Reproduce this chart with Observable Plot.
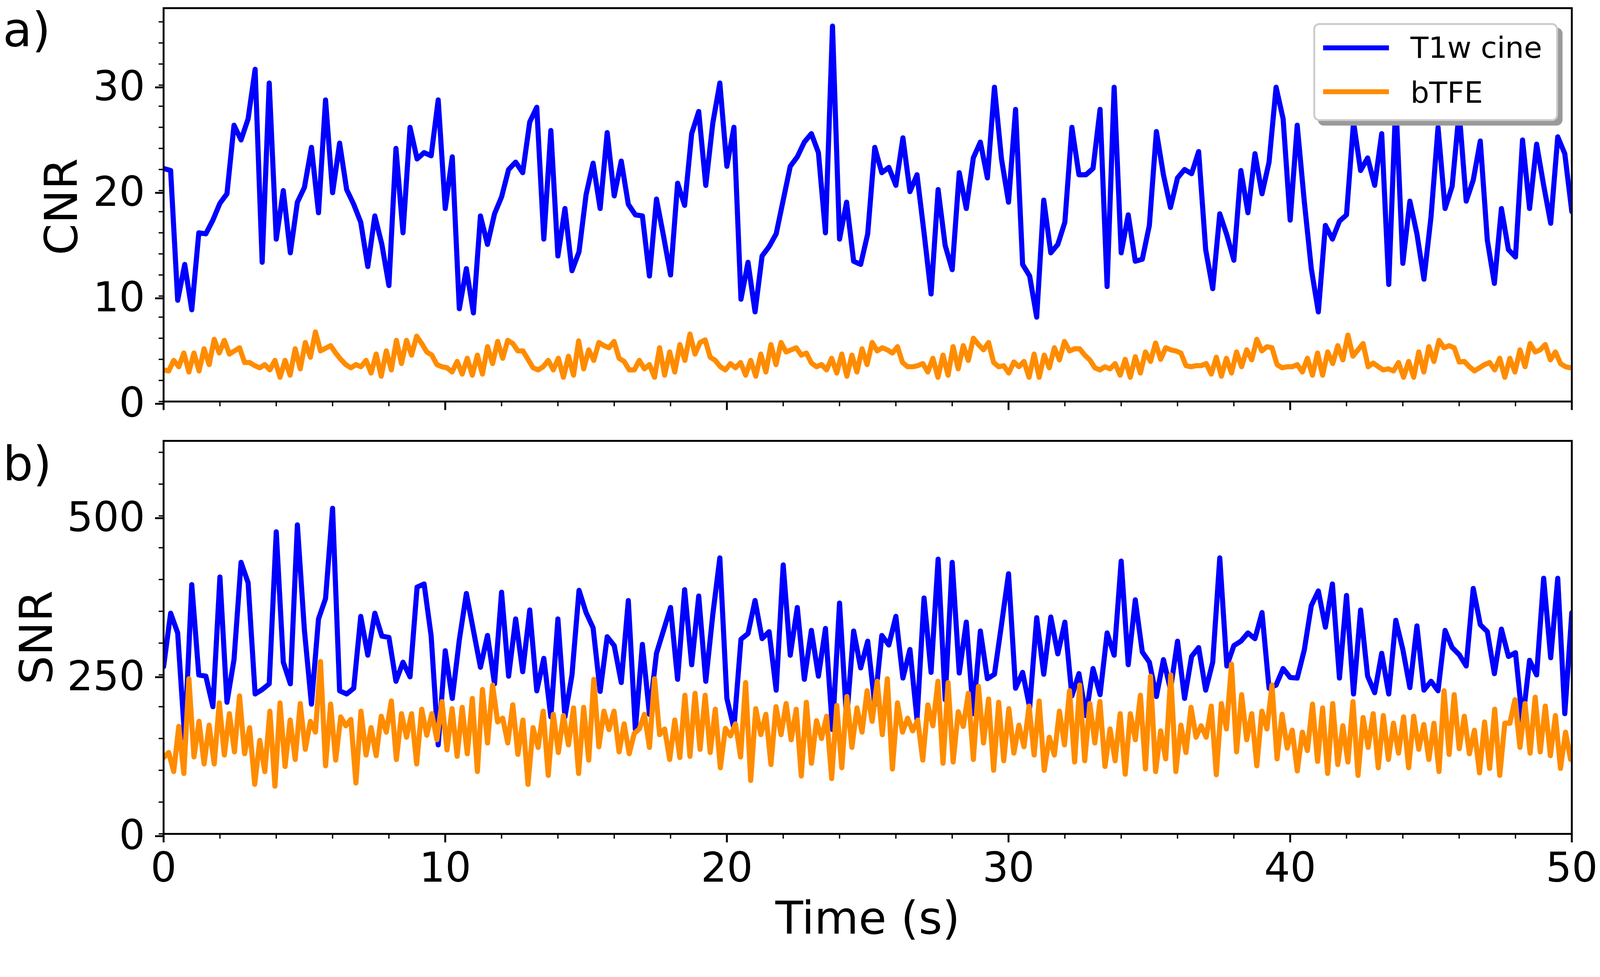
<!DOCTYPE html>
<html>
<head>
<meta charset="utf-8">
<script src="https://cdn.jsdelivr.net/npm/d3@7"></script>
<script src="https://cdn.jsdelivr.net/npm/@observablehq/plot@0.6"></script>
<style>
  html, body { margin: 0; padding: 0; background: #fff; overflow: hidden; }
  #fig { position: absolute; left: 0; top: 0; width: 4230px; height: 2501px; font-family: "DejaVu Sans", sans-serif; background: #fff; overflow: hidden; transform-origin: 0 0; }
  #fig svg { display: block; max-width: none !important; }
  .legend { position: absolute; left: 3472px; top: 61px; width: 647px; height: 259px; box-sizing: border-box;
            border: 5px solid #cccccc; border-radius: 16px; background: #fff; box-shadow: 12px 12px 0 0 #9a9a9a; }
  .legend .sw { position: absolute; left: 21px; width: 174px; height: 13px; }
  .legend .lb { position: absolute; left: 252px; font-size: 78px; line-height: 78px; color: #000; white-space: nowrap; }
</style>
</head>
<body>
<div id="fig"></div>
<script>
// ---- data ----
const seriesNames = ["T1w cine", "bTFE"];
const seriesColors = ["#0000ff", "#ff8c00"];
const cineStep = 0.25;    // s between T1w cine frames
const btfeStep = 0.1797;  // s between bTFE frames

const cnrCine = [
22.1,21.9,9.6,13.0,8.7,16.0,15.9,17.2,18.8,19.7,
26.2,24.8,26.8,31.5,13.2,30.2,15.4,20.0,14.1,18.9,
20.3,24.1,17.9,28.6,19.8,24.5,20.1,18.7,17.0,12.8,
17.6,14.9,11.0,24.0,16.0,26.0,23.0,23.6,23.3,28.6,
18.3,23.2,8.8,12.6,8.4,17.6,14.9,17.8,19.4,22.0,
22.7,21.7,26.5,27.9,15.4,25.7,13.8,18.3,12.4,14.2,
19.6,22.6,18.3,25.5,19.5,22.8,18.7,17.7,17.6,11.9,
19.2,15.7,12.0,20.7,18.6,25.4,27.5,20.5,26.4,30.2,
22.3,26.0,9.7,13.2,8.5,13.8,14.7,15.9,19.1,22.3,
23.2,24.6,25.4,23.6,16.0,35.6,15.4,18.9,13.3,13.0,
15.9,24.1,21.7,22.2,20.5,25.0,19.9,21.5,16.0,10.2,
20.1,14.8,12.5,21.7,18.3,23.1,24.6,21.2,29.8,23.0,
18.9,27.7,13.0,11.9,8.0,19.1,14.1,14.9,17.0,26.0,
21.5,21.5,22.1,27.7,10.9,29.8,14.1,17.7,13.3,13.5,
16.7,25.6,21.5,18.4,21.2,22.0,21.6,23.7,14.4,10.7,
17.8,15.8,13.4,21.9,17.9,23.5,19.7,22.7,29.8,26.8,
17.2,26.2,19.0,12.6,8.5,16.7,15.4,17.1,17.7,26.5,
21.9,23.1,20.5,25.4,11.1,28.5,13.1,19.0,15.9,11.6,
17.5,26.0,18.3,20.4,27.5,19.0,21.0,24.7,15.3,11.2,
18.3,14.4,13.7,24.8,18.3,24.4,20.5,16.9,25.1,23.5,
18.0];

const cnrBtfe = [
3.0,2.9,3.9,3.3,4.6,2.8,4.6,2.9,5.0,3.5,
5.9,4.6,5.8,4.5,4.8,5.1,3.7,3.7,3.4,3.2,
3.5,3.0,3.9,2.3,3.9,2.5,5.0,3.1,5.6,4.2,
6.6,4.8,5.05,5.3,4.6,4.0,3.5,3.2,3.5,3.3,
3.9,2.7,4.5,2.4,4.8,3.0,5.8,3.6,5.8,4.4,
6.2,5.5,4.7,4.4,3.5,3.3,3.2,2.8,3.8,2.6,
4.1,2.5,4.4,2.6,5.2,3.6,5.7,4.1,5.8,5.5,
4.8,4.8,4.0,3.2,3.0,3.3,3.9,3.0,4.1,2.3,
4.3,2.5,5.75,3.1,4.9,3.9,5.6,5.3,5.1,5.7,
4.1,3.8,3.0,3.0,3.9,3.1,3.5,2.3,5.1,2.5,
4.7,2.8,5.4,3.9,6.4,4.5,5.6,5.85,4.2,3.9,
3.3,3.0,3.6,3.2,3.7,2.5,3.9,2.4,4.5,2.8,
5.4,3.5,5.6,4.7,4.9,5.1,4.4,4.6,3.65,3.3,
3.5,3.0,4.1,2.7,4.5,2.4,4.4,2.8,5.0,3.5,
5.6,4.8,5.1,4.9,4.6,5.2,3.7,3.3,3.3,3.4,
3.6,2.8,4.1,2.3,4.4,2.5,5.2,3.1,5.3,3.9,
6.0,5.4,4.9,5.6,3.7,3.3,3.4,2.7,3.75,3.3,
3.8,2.3,4.5,2.3,4.4,3.2,5.1,3.95,5.7,4.8,
5.0,5.0,4.4,3.95,3.2,3.0,3.3,3.1,3.6,2.5,
4.0,2.3,4.25,2.7,4.7,3.8,5.55,4.0,5.1,4.9,
4.8,4.6,3.4,3.3,3.4,3.4,3.6,2.6,4.2,2.4,
4.1,2.7,4.7,3.3,4.9,3.95,5.9,4.8,5.2,5.1,
3.5,3.2,3.3,3.3,3.5,2.8,4.1,2.5,4.6,2.5,
4.7,3.6,5.3,3.95,6.3,4.3,4.9,5.5,3.3,3.65,
3.3,3.0,3.1,2.9,3.7,2.3,3.8,2.3,4.7,2.8,
5.2,3.8,5.8,5.1,5.3,5.1,3.75,3.8,3.3,2.9,
3.2,3.5,3.7,3.0,4.1,2.3,4.1,2.8,4.9,3.3,
5.5,4.7,4.9,5.4,3.95,4.7,3.6,3.3,3.2];

const snrCine = [
263,347,316,150,392,250,248,200,404,207,
274,427,395,220,227,236,475,270,236,486,
320,204,338,370,512,225,220,229,342,281,
347,311,309,240,270,247,388,393,311,140,
288,213,305,378,320,262,312,236,380,248,
338,255,352,225,276,184,338,184,250,383,
348,324,224,310,296,238,367,164,298,188,
284,320,356,243,384,266,374,240,345,434,
213,166,306,315,367,307,318,226,423,281,
356,243,320,248,323,164,363,180,319,261,
303,203,312,297,342,245,290,180,371,254,
432,211,427,253,333,189,319,244,251,329,
409,229,254,199,340,251,341,283,333,217,
252,186,260,219,316,281,429,266,368,286,
270,216,274,227,303,213,279,293,226,270,
434,264,296,303,316,307,348,229,234,260,
246,245,289,359,382,325,393,245,375,220,
352,248,222,284,220,336,290,230,327,226,
240,225,320,293,282,264,386,329,318,252,
322,279,285,176,273,250,402,277,402,189,
348];

const snrBtfe = [
120,128,98,169,95,244,121,177,110,171,
110,206,124,189,129,217,126,167,78,147,
98,193,75,206,106,179,117,205,133,177,
160,271,107,204,116,184,170,180,80,193,
124,167,123,185,160,209,117,189,152,189,
110,196,155,189,148,208,132,197,122,199,
126,213,98,227,143,234,176,182,143,203,
125,179,78,167,136,193,92,188,128,186,
140,198,95,199,116,243,137,193,164,193,
129,173,126,158,165,188,136,244,156,165,
117,179,120,218,122,221,133,218,128,196,
104,166,154,173,121,238,84,197,156,188,
109,200,156,205,148,196,91,207,111,178,
150,185,87,202,104,216,136,198,160,225,
177,240,156,244,102,206,160,182,162,179,
116,203,170,240,111,238,113,192,169,221,
117,232,143,212,100,207,115,197,127,171,
137,201,124,209,100,152,124,193,140,225,
113,234,115,205,143,208,106,165,115,189,
94,189,148,218,102,248,98,162,118,250,
98,171,128,199,152,170,152,201,93,205,
165,267,129,219,148,189,107,193,165,234,
118,188,135,163,99,160,131,204,114,198,
95,205,109,170,113,208,92,183,136,189,
104,186,117,174,127,184,104,185,133,172,
117,174,98,225,125,219,134,185,126,163,
96,176,103,196,92,174,174,211,136,205,
127,215,129,201,123,186,103,160,117];

const xMajor = [0, 10, 20, 30, 40, 50];
const xMinor = [0,2,4,6,8,10,12,14,16,18,20,22,24,26,28,30,32,34,36,38,40,42,44,46,48,50];
const cnrMajor = [0, 10, 20, 30];
const cnrMinor = [0,2,4,6,8,10,12,14,16,18,20,22,24,26,28,30,32,34,36];
const snrMajor = [0, 250, 500];
const snrMinor = [0,50,100,150,200,250,300,350,400,450,500,550,600];
const panelLabels = ["a)", "b)"];
const yLabels = ["CNR", "SNR"];
const xLabel = "Time (s)";

// ---- build tables ----
const toRows = (vals, step) => vals.map((v, i) => ({t: i * step, v}));
const rows = {
  cnrCine: toRows(cnrCine, cineStep), cnrBtfe: toRows(cnrBtfe, btfeStep),
  snrCine: toRows(snrCine, cineStep), snrBtfe: toRows(snrBtfe, btfeStep)
};

const font = "DejaVu Sans";
const W = 4230, H = 2501;
const lineOpts = (c) => ({x: "t", y: "v", stroke: c, strokeWidth: 13.5, strokeLinejoin: "round", strokeLinecap: "round", clip: true});

const topChart = Plot.plot({
  width: W, height: 1110,
  marginTop: 21, marginBottom: 49, marginLeft: 432, marginRight: 75,
  style: {fontFamily: font, fontSize: "108px", background: "white", overflow: "visible"},
  x: {domain: [0, 50]},
  y: {domain: [0, 37.3]},
  marks: [
    Plot.lineY(rows.cnrCine, lineOpts(seriesColors[0])),
    Plot.lineY(rows.cnrBtfe, lineOpts(seriesColors[1])),
    Plot.frame({stroke: "black", strokeWidth: 5}),
    Plot.axisX({ticks: xMajor, tickSize: 23, strokeWidth: 5, fill: "none", label: null}),
    Plot.axisX({ticks: xMinor, tickSize: 13, strokeWidth: 3.5, fill: "none", label: null}),
    Plot.axisY({ticks: cnrMajor, tickSize: 22, tickPadding: 27, strokeWidth: 5, fontSize: 108, dy: 6, label: null, fill: "black"}),
    Plot.axisY({ticks: cnrMinor, tickSize: 12.6, strokeWidth: 3.5, fill: "none", label: null}),
    Plot.text([yLabels[0]], {text: d => d, frameAnchor: "left", dx: -267, dy: 5, rotate: -90, fontSize: 120, textAnchor: "middle", lineAnchor: "middle", fill: "black"}),
    Plot.text([panelLabels[0]], {text: d => d, frameAnchor: "top-left", dx: -425, dy: 100, fontSize: 126, textAnchor: "start", lineAnchor: "bottom", fill: "black"})
  ]
});

const bottomChart = Plot.plot({
  width: W, height: 1391,
  marginTop: 55, marginBottom: 297, marginLeft: 432, marginRight: 75,
  style: {fontFamily: font, fontSize: "108px", background: "white", overflow: "visible"},
  x: {domain: [0, 50]},
  y: {domain: [0, 618]},
  marks: [
    Plot.lineY(rows.snrCine, lineOpts(seriesColors[0])),
    Plot.lineY(rows.snrBtfe, lineOpts(seriesColors[1])),
    Plot.frame({stroke: "black", strokeWidth: 5}),
    Plot.axisX({ticks: xMajor, tickSize: 23, tickPadding: 27, strokeWidth: 5, fontSize: 108, label: null, fill: "black"}),
    Plot.axisX({ticks: xMinor, tickSize: 13, strokeWidth: 3.5, fill: "none", label: null}),
    Plot.axisY({ticks: snrMajor, tickSize: 22, tickPadding: 27, strokeWidth: 5, fontSize: 108, dy: 6, label: null, fill: "black"}),
    Plot.axisY({ticks: snrMinor, tickSize: 12.6, strokeWidth: 3.5, fill: "none", label: null}),
    Plot.text([yLabels[1]], {text: d => d, frameAnchor: "left", dx: -334, rotate: -90, fontSize: 120, textAnchor: "middle", lineAnchor: "middle", fill: "black"}),
    Plot.text([panelLabels[1]], {text: d => d, frameAnchor: "top-left", dx: -425, dy: 104, fontSize: 126, textAnchor: "start", lineAnchor: "bottom", fill: "black"}),
    Plot.text([xLabel], {text: d => d, frameAnchor: "bottom", dy: 264, fontSize: 120, textAnchor: "middle", lineAnchor: "bottom", fill: "black"})
  ]
});

const fig = document.getElementById("fig");
fig.appendChild(topChart);
fig.appendChild(bottomChart);

// legend (HTML overlay inside the top panel, matplotlib-style with shadow)
const legend = document.createElement("div");
legend.className = "legend";
const rowTops = [{sw: 53.5, lb: 21}, {sw: 169.5, lb: 140}];
seriesNames.forEach((name, i) => {
  const sw = document.createElement("div");
  sw.className = "sw";
  sw.style.top = rowTops[i].sw + "px";
  sw.style.background = seriesColors[i];
  const lb = document.createElement("div");
  lb.className = "lb";
  lb.style.top = rowTops[i].lb + "px";
  lb.textContent = name;
  legend.appendChild(sw);
  legend.appendChild(lb);
});
fig.appendChild(legend);

// fit the 4230x2501 figure into whatever viewport the page gets
function fit() {
  const s = Math.min(window.innerWidth / W, window.innerHeight / H);
  fig.style.transform = `scale(${s})`;
}
fit();
window.addEventListener("resize", fit);
</script>
</body>
</html>
